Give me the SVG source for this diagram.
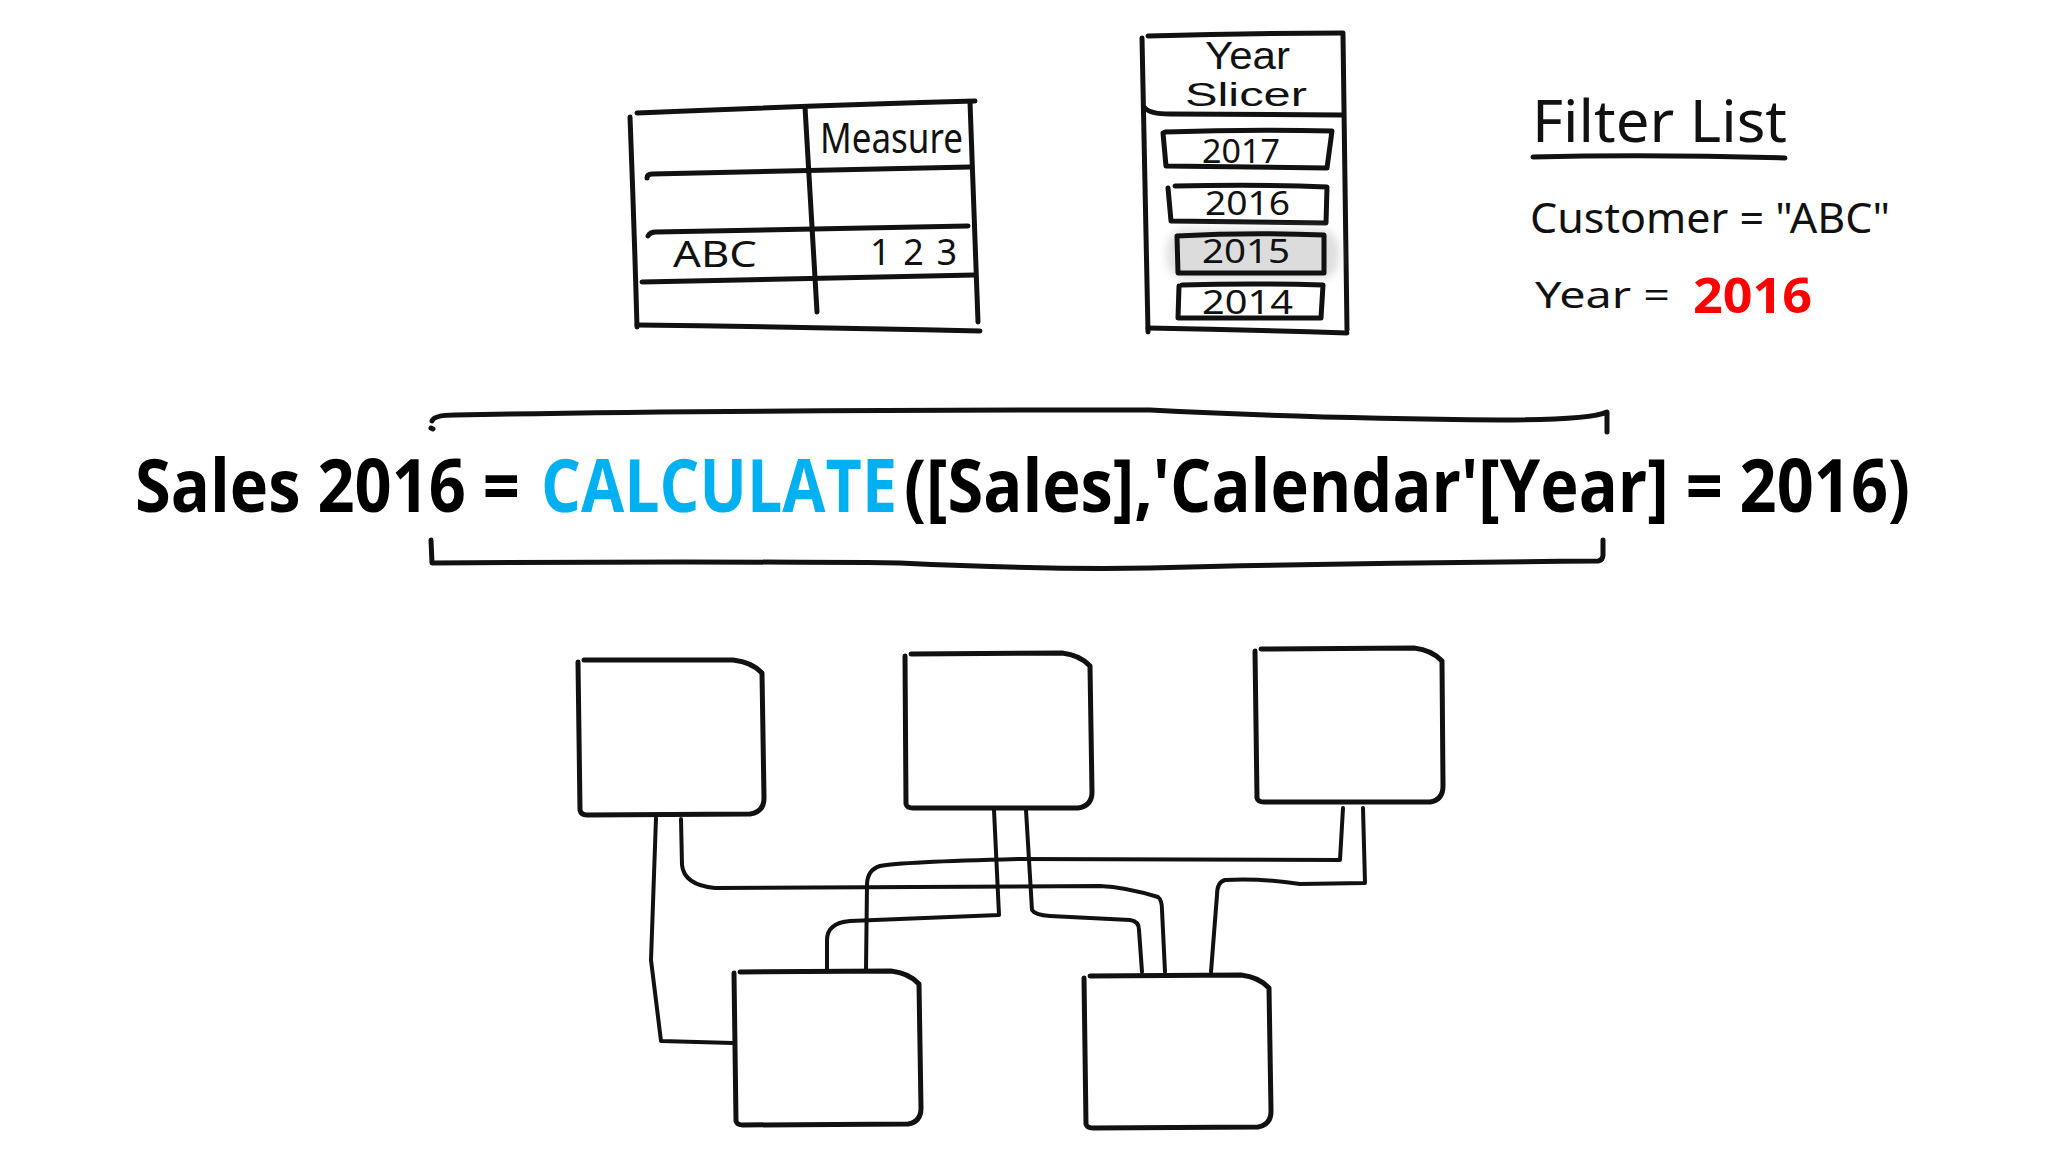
<svg xmlns="http://www.w3.org/2000/svg" width="2048" height="1152" viewBox="0 0 2048 1152">
<defs>
<style>
.ink{fill:none;stroke:#111;stroke-width:5;stroke-linecap:round;stroke-linejoin:round}
.box{fill:#fff;stroke:#111;stroke-width:5;stroke-linecap:round;stroke-linejoin:round}
.con{fill:none;stroke:#111;stroke-width:4;stroke-linecap:round;stroke-linejoin:round}
.hw{font-family:"Noto Sans","Liberation Sans",sans-serif;fill:#111}
.hw2{font-family:"Liberation Sans","Noto Sans",sans-serif;fill:#111}
.f{font-family:"Open Sans","Liberation Sans",sans-serif;font-weight:700;font-size:73px;fill:#000}
</style>
<filter id="blur" x="-20%" y="-40%" width="140%" height="180%"><feGaussianBlur stdDeviation="4"/></filter>
</defs>
<rect width="2048" height="1152" fill="#fff"/>

<g id="table">
<path class="ink" d="M637,113 Q800,106 975,101"/>
<path class="ink" d="M630,117 Q634,220 637,327"/>
<path class="ink" d="M970,102 Q974,210 978,322"/>
<path class="ink" d="M637,325 Q800,327 980,331"/>
<path class="ink" d="M647,178 Q647,174 652,174 Q800,171 970,167"/>
<path class="ink" d="M648,236 Q650,232 656,232 Q800,229 968,226"/>
<path class="ink" d="M642,282 Q800,278 975,275"/>
<path class="ink" d="M805,107 Q811,210 817,312"/>
<text class="hw" x="820" y="153" font-size="42" textLength="143" lengthAdjust="spacingAndGlyphs">Measure</text>
<text class="hw" x="673" y="267" font-size="36" textLength="84" lengthAdjust="spacingAndGlyphs">ABC</text>
<text class="hw" x="870" y="265" font-size="36" textLength="87" lengthAdjust="spacing">123</text>
</g>

<g id="slicer">
<path class="ink" d="M1142,38 Q1145,180 1148,332"/>
<path class="ink" d="M1148,36 Q1250,33 1343,33"/>
<path class="ink" d="M1343,35 Q1345,180 1347,330"/>
<path class="ink" d="M1148,328 Q1250,330 1347,333"/>
<path class="ink" d="M1145,108 Q1150,114 1170,114 L1342,115"/>
<text class="hw2" x="1205" y="69" font-size="38" textLength="85" lengthAdjust="spacingAndGlyphs">Year</text>
<text class="hw2" x="1185" y="106" font-size="33" textLength="122" lengthAdjust="spacingAndGlyphs">Slicer</text>
<g id="y2017">
<path class="ink" d="M1163,133 L1166,166 L1327,168 L1332,131 Q1250,129 1165,132"/>
<text class="hw" x="1202" y="163" font-size="32" textLength="78" lengthAdjust="spacingAndGlyphs">2017</text>
</g>
<g id="y2016">
<path class="ink" d="M1168,188 L1171,221 L1326,223 L1327,187 Q1260,184 1175,186"/>
<text class="hw" x="1205" y="215" font-size="32" textLength="85" lengthAdjust="spacingAndGlyphs">2016</text>
</g>
<g id="y2015">
<rect x="1167" y="229" width="172" height="50" rx="20" fill="#d0d0d0" opacity="0.7" filter="url(#blur)"/>
<path d="M1177,236 L1178,273 L1324,273 L1324,235 Q1250,232 1177,236Z" fill="#dcdcdc" stroke="#111" stroke-width="5" stroke-linejoin="round"/>
<text class="hw" x="1202" y="263" font-size="32" textLength="88" lengthAdjust="spacingAndGlyphs">2015</text>
</g>
<g id="y2014">
<path class="ink" d="M1179,286 L1178,318 L1321,318 L1323,285 Q1250,283 1182,285"/>
<text class="hw" x="1202" y="314" font-size="32" textLength="91" lengthAdjust="spacingAndGlyphs">2014</text>
</g>
</g>

<g id="filterlist">
<text class="hw" x="1532" y="142" font-size="58" textLength="255" lengthAdjust="spacingAndGlyphs">Filter List</text>
<path class="ink" d="M1533,157 Q1650,154 1785,158" stroke-width="4"/>
<text class="hw" x="1530" y="233" font-size="42" textLength="360" lengthAdjust="spacingAndGlyphs">Customer = "ABC"</text>
<text class="hw" x="1535" y="308" font-size="36" textLength="135" lengthAdjust="spacingAndGlyphs">Year =</text>
<text x="1693" y="313" font-family="'Open Sans','Liberation Sans',sans-serif" font-weight="700" font-size="49" fill="#ff0000" textLength="119" lengthAdjust="spacingAndGlyphs">2016</text>
</g>

<g id="formula">
<path class="ink" d="M432,421 Q434,415 455,415 Q700,410 1150,410 Q1300,418 1500,420 Q1590,420 1607,412 L1607,432" stroke-width="4"/>
<path class="ink" d="M431,428 L433,429" stroke-width="4"/>
<path class="ink" d="M431,540 L432,563 Q700,561 900,563 Q1050,570 1150,568 Q1350,563 1598,561 Q1603,560 1603,555 L1603,540" stroke-width="4"/>
<text class="f" x="135" y="512" textLength="385" lengthAdjust="spacingAndGlyphs">Sales 2016 =</text>
<text class="f" x="541" y="512" style="fill:#00b0f0" textLength="356" lengthAdjust="spacingAndGlyphs">CALCULATE</text>
<text class="f" x="904" y="512" textLength="1006" lengthAdjust="spacingAndGlyphs">([Sales],'Calendar'[Year] = 2016)</text>
</g>

<g id="connectors">
<path class="con" d="M656,818 L651,960 L661,1041 L733,1043"/>
<path class="con" d="M681,819 L682,865 Q684,885 715,888 L1100,886 Q1125,887 1158,897 Q1162,900 1162,910 L1165,972"/>
<path class="con" d="M994,810 L999,915 L850,921 Q827,923 827,940 L827,970"/>
<path class="con" d="M1026,810 L1032,910 Q1035,915 1050,916 L1130,920 Q1139,921 1139,930 L1142,972"/>
<path class="con" d="M1343,808 L1340,860 L1020,859 Q900,862 880,866 Q867,870 867,885 L866,970"/>
<path class="con" d="M1363,808 L1365,883 L1300,884 Q1260,878 1225,880 Q1217,882 1217,895 L1211,972"/>
</g>

<g id="box-tl">
<path class="box" d="M578,662 L580,810 Q581,815 587,815 L750,814 Q764,812 764,798 L762,673 Q752,662 733,660 L584,660"/>
</g>
<g id="box-tm">
<path class="box" d="M905,656 L906,804 Q907,808 913,808 L1078,808 Q1092,806 1092,792 L1090,666 Q1080,655 1062,653 L911,654"/>
</g>
<g id="box-tr">
<path class="box" d="M1255,651 L1257,798 Q1258,802 1264,802 L1430,802 Q1443,800 1443,786 L1442,661 Q1432,650 1414,648 L1261,649"/>
</g>
<g id="box-bl">
<path class="box" d="M734,973 L736,1121 Q737,1125 743,1125 L908,1124 Q921,1122 921,1108 L919,984 Q909,973 891,971 L740,972"/>
</g>
<g id="box-br">
<path class="box" d="M1084,978 L1086,1124 Q1087,1128 1093,1128 L1258,1127 Q1271,1125 1271,1111 L1269,988 Q1259,977 1241,975 L1090,976"/>
</g>
</svg>
